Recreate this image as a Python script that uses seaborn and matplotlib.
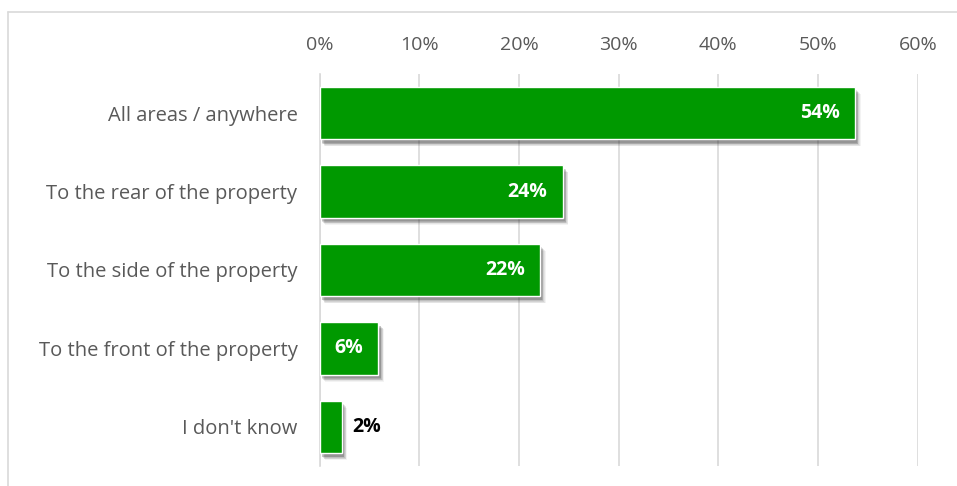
import matplotlib
matplotlib.use("Agg")
import matplotlib.pyplot as plt
import matplotlib.patheffects as pe
from matplotlib.lines import Line2D
from matplotlib.ticker import PercentFormatter
import seaborn as sns
import pandas as pd

categories = [
    "All areas / anywhere",
    "To the rear of the property",
    "To the side of the property",
    "To the front of the property",
    "I don't know",
]
shares = [0.537, 0.244, 0.221, 0.059, 0.022]
xticks = [0.0, 0.1, 0.2, 0.3, 0.4, 0.5, 0.6]

df = pd.DataFrame({"area": categories, "share": shares})

sns.set_style("white")
plt.rcParams["font.family"] = ["Open Sans", "DejaVu Sans"]

fig = plt.figure(figsize=(9.57, 4.86), dpi=100)
ax = fig.add_axes([0.334, 0.041, 0.625, 0.807])

sns.barplot(data=df, x="share", y="area", orient="h", color="#009900",
            saturation=1, width=0.67, ax=ax, zorder=3)

# soft drop shadow (down and to the right) built from a few faint offset layers
shadow = [pe.SimplePatchShadow(offset=(dx, -dy), alpha=a, shadow_rgbFace="#222222")
          for dx, dy, a in [(4, 5, 0.05), (3.5, 4.5, 0.07), (3, 4, 0.09),
                            (2.5, 3.5, 0.11), (2, 3, 0.13), (1.5, 2.5, 0.14)]]
for bar in ax.patches:
    bar.set_path_effects(shadow + [pe.Normal()])

ax.set_xlim(0, 0.6)
ax.set_xticks(xticks)
ax.xaxis.set_major_formatter(PercentFormatter(1.0, decimals=0))
ax.xaxis.tick_top()
ax.tick_params(axis="x", length=0, pad=14, labelsize=14, labelcolor="#595959")
ax.tick_params(axis="y", length=0, pad=16, labelsize=14.5, labelcolor="#595959")
ax.set_xlabel("")
ax.set_ylabel("")
ax.grid(axis="x", color="#d9d9d9", linewidth=1.2, zorder=0)
ax.grid(axis="y", visible=False)
for side in ["top", "right", "bottom"]:
    ax.spines[side].set_visible(False)
ax.spines["left"].set_color("#d9d9d9")
ax.spines["left"].set_linewidth(1.2)

# value labels: inside the bar end where they fit, just outside otherwise
for bar, val in zip(ax.patches, shares):
    y = bar.get_y() + bar.get_height() / 2
    end = bar.get_width()
    text = f"{val * 100:.0f}%"
    if val >= 0.05:
        ax.annotate(text, (end, y), xytext=(-11, 0), textcoords="offset points",
                    ha="right", va="center", color="white", fontsize=14,
                    fontweight="bold")
    else:
        ax.annotate(text, (end, y), xytext=(8, 0), textcoords="offset points",
                    ha="left", va="center", color="black", fontsize=14,
                    fontweight="bold")

# chart frame
fx0, fy1 = 8 / 957, 1 - 12 / 486
fig.add_artist(Line2D([fx0, fx0], [0, fy1], transform=fig.transFigure,
                      color="#d9d9d9", linewidth=1.2))
fig.add_artist(Line2D([fx0, 1], [fy1, fy1], transform=fig.transFigure,
                      color="#d9d9d9", linewidth=1.2))

fig.savefig("out.png", dpi=100, facecolor="white")
